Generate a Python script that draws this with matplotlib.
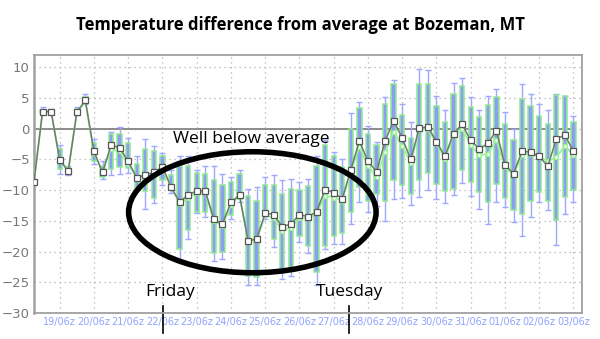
import matplotlib
matplotlib.use("Agg")
import matplotlib.pyplot as plt
from matplotlib.patches import Ellipse

# 6-hourly steps, first point is 18/12z
control = [-8.6, 2.8, 2.8, -5.1, -6.9, 2.7, 4.6, -3.7, -7.1, -2.7,
           -3.1, -5.3, -8.0, -7.5, -7.1, -6.2, -9.5, -11.9, -10.8, -10.1,
           -10.1, -14.7, -15.5, -12.0, -10.8, -18.2, -18.0, -13.7, -14.0, -16.0,
           -15.5, -14.0, -14.3, -13.5, -9.9, -10.4, -11.4, -6.7, -2.0, -5.3,
           -7.0, -2.0, 1.3, -1.5, -5.0, 0.1, 0.3, -2.1, -4.5, -0.8,
           0.7, -1.9, -3.3, -2.4, -0.3, -5.9, -7.3, -3.7, -3.8, -4.5,
           -6.1, -1.7, -1.0, -3.7]
ens_mean = [-8.6, 2.8, 2.8, -5.0, -6.8, 2.6, 4.4, -4.0, -7.0, -3.3,
            -3.7, -5.8, -7.9, -7.7, -7.4, -6.7, -9.3, -12.3, -11.2, -10.5,
            -10.3, -15.0, -15.8, -12.4, -11.0, -18.3, -18.1, -14.1, -14.5, -16.6,
            -16.1, -14.5, -14.6, -13.8, -10.9, -11.2, -11.7, -7.0, -3.0, -6.0,
            -7.9, -3.8, -0.5, -2.8, -5.5, -0.1, 0.0, -2.4, -4.9, -1.0,
            0.0, -2.6, -4.3, -4.1, -1.9, -6.3, -7.5, -4.2, -4.1, -4.6,
            -5.3, -4.6, -2.8, -4.3]
box_hi = [-8.4, 3.1, 3.0, -3.3, -6.2, 3.2, 5.2, -2.3, -6.0, -0.8,
          -0.8, -2.4, -5.8, -3.3, -3.7, -4.5, -7.5, -6.1, -6.1, -7.2,
          -7.3, -8.3, -9.2, -8.6, -7.3, -10.9, -11.7, -9.2, -9.2, -10.6,
          -9.8, -10.0, -9.3, -6.0, -2.7, -4.4, -6.3, 0.0, 3.3, -0.8,
          -2.7, 4.1, 7.2, 2.3, -1.5, 7.3, 7.3, 3.7, 1.1, 5.7,
          7.0, 3.5, 1.9, 3.9, 5.2, 0.7, -1.9, 4.8, 3.7, 2.1,
          0.7, 5.5, 5.3, 1.1]
box_lo = [-8.8, 2.6, 2.6, -6.6, -7.3, 2.4, 4.2, -5.2, -7.8, -6.6,
          -6.3, -6.4, -9.7, -10.2, -11.3, -8.3, -10.0, -19.5, -16.5, -13.5,
          -13.5, -20.2, -20.1, -14.1, -11.5, -23.9, -24.2, -13.9, -17.9, -23.1,
          -22.8, -17.4, -19.1, -23.4, -19.1, -17.4, -16.9, -13.6, -9.5, -11.7,
          -10.6, -11.7, -8.3, -9.1, -10.6, -8.3, -7.2, -9.0, -10.2, -9.8,
          -6.8, -8.7, -10.3, -12.0, -9.0, -11.3, -13.3, -13.9, -11.7, -10.3,
          -11.8, -14.9, -11.1, -9.9]
whisk_hi = [-8.3, 3.5, 3.2, -2.6, -6.0, 3.5, 5.6, -1.6, -5.2, -0.5,
            0.3, -1.5, -4.5, -1.7, -2.8, -3.9, -6.7, -4.5, -4.5, -6.7,
            -6.1, -6.0, -7.3, -7.9, -6.8, -9.8, -9.5, -7.9, -7.6, -8.4,
            -8.2, -8.7, -8.2, -4.5, -1.9, -3.8, -4.9, 2.5, 4.4, 0.5,
            -2.2, 5.2, 8.0, 4.1, 1.1, 9.8, 9.5, 5.3, 3.0, 7.5,
            8.3, 5.2, 3.0, 5.3, 6.4, 2.8, 0.0, 7.3, 5.7, 4.1,
            3.0, 5.7, 5.4, 2.1]
whisk_lo = [-8.9, 2.4, 2.5, -7.4, -7.5, 2.3, 4.1, -5.7, -8.2, -7.5,
            -7.4, -7.2, -10.0, -13.0, -12.1, -9.1, -10.5, -21.4, -17.9, -13.8,
            -14.3, -21.6, -21.2, -14.7, -12.0, -25.5, -25.5, -14.7, -19.3, -24.5,
            -23.9, -18.5, -20.2, -25.5, -19.6, -18.8, -18.8, -15.5, -12.0, -13.6,
            -12.5, -15.0, -11.5, -11.3, -12.4, -11.1, -9.9, -11.5, -12.1, -10.8,
            -8.8, -10.9, -13.0, -15.5, -12.0, -12.8, -15.2, -17.4, -14.4, -12.0,
            -13.3, -18.9, -13.9, -12.0]

days = ["19", "20", "21", "22", "23", "24", "25", "26", "27", "28",
        "29", "30", "31", "01", "02", "03"]
y_ticks = [-30, -25, -20, -15, -10, -5, 0, 5, 10]

BLUE = "#8d9cf6"
GREEN = "#8fe98f"

steps = list(range(len(control)))
day_pos = [3 + 4 * k for k in range(len(days))]

fig = plt.figure(figsize=(6, 3.39), dpi=100)
ax = fig.add_axes([34 / 600, 1 - 313 / 339, 548 / 600, 258 / 339])

ax.set_xlim(0, 64)
ax.set_ylim(-30, 12)
ax.set_yticks(y_ticks)
ax.set_yticklabels([f"{v}".replace("-", "\u2212") for v in y_ticks])
ax.set_xticks(day_pos)
ax.set_xticklabels([f"{d}/06z" for d in days])
ax.tick_params(axis="y", colors="#777777", labelsize=9.5, length=0, pad=3)
ax.tick_params(axis="x", colors="#8fa4ff", labelsize=7, length=0, pad=3)
ax.grid(True, linestyle=(0, (1, 3)), color="#b0b0b0", linewidth=0.9)
for sp in ax.spines.values():
    sp.set_color("#a0a0a0")
    sp.set_linewidth(1.3)
ax.spines["left"].set_linewidth(1.8)

ax.plot([0, len(control) - 1], [0, 0], color="#8c8c8c", linewidth=1.4, zorder=2)

mid = [(h + l) / 2 for h, l in zip(whisk_hi, whisk_lo)]
ax.errorbar(steps, mid,
            yerr=[[m - l for m, l in zip(mid, whisk_lo)], [h - m for m, h in zip(mid, whisk_hi)]],
            fmt="none", ecolor="#9ea8ff", elinewidth=1, capsize=2.5, capthick=1, zorder=3)
ax.bar(steps, [h - l for h, l in zip(box_hi, box_lo)], bottom=box_lo, width=0.5,
       color=BLUE, edgecolor=GREEN, linewidth=1.1, zorder=4)

ax.plot(steps, ens_mean, color="#9cf09c", linewidth=1.3, marker="o", markersize=2.8,
        markerfacecolor="white", markeredgecolor="#9cf09c", zorder=5)
ax.plot(steps, control, color="#6f7a6f", linewidth=1.1, marker="s", markersize=4.6,
        markerfacecolor="white", markeredgecolor="#555555", markeredgewidth=0.9, zorder=6)

ax.add_patch(Ellipse((25.5, -13.6), 28.9, 19.7, fill=False, edgecolor="black",
                     linewidth=4, zorder=7))
ax.text(25.4, -1.6, "Well below average", fontsize=12.5, ha="center", va="center",
        family="Open Sans", zorder=8)
ax.text(15.9, -26.5, "Friday", fontsize=12.5, ha="center", va="center", family="Open Sans")
ax.text(36.8, -26.5, "Tuesday", fontsize=12.5, ha="center", va="center", family="Open Sans")
ax.plot([15.1, 15.1], [-28.8, -33.3], color="black", linewidth=1.2, clip_on=False)
ax.plot([36.8, 36.8], [-28.8, -33.3], color="black", linewidth=1.2, clip_on=False)

fig.text(0.5, 1 - 25 / 339, "Temperature difference from average at Bozeman, MT",
         ha="center", va="center", fontsize=12, fontweight="bold", family="Open Sans")

fig.savefig("out.png", dpi=100)
plt.close(fig)
